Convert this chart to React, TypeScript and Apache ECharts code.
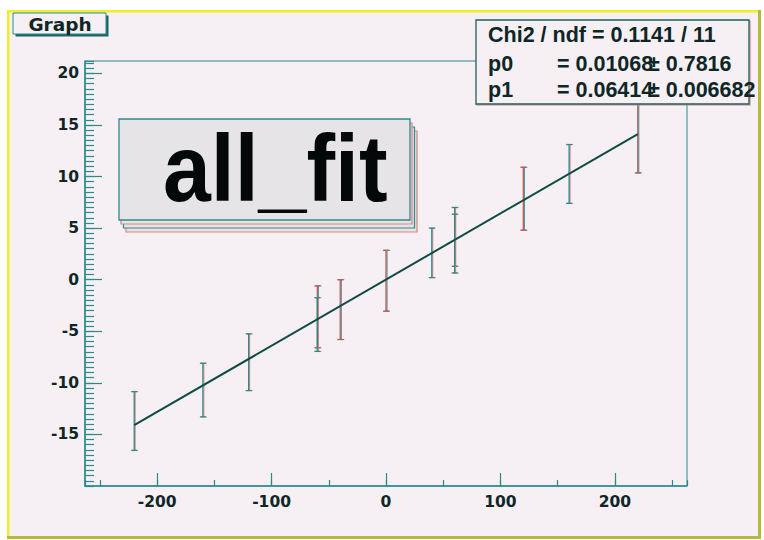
import React, { useEffect, useRef } from 'react';
import * as echarts from 'echarts';

// ---- data ----
const X_VALUES = [-220, -160, -120, -60, -60, -40, 0, 40, 60, 60, 120, 160, 220];
const Y_VALUES = [-13.7, -10.7, -8.0, -3.6, -4.35, -2.9, -0.1, 2.6, 4.15, 3.5, 7.85, 10.25, 13.9];
const Y_ERRORS = [2.85, 2.6, 2.75, 3.0, 2.6, 2.9, 2.95, 2.4, 2.85, 2.85, 3.05, 2.85, 3.55];
const FIT_P0 = 0.01068;
const FIT_P1 = 0.06414;
const FIT_X_RANGE = [-220, 220];
const X_RANGE = [-263, 263];
const Y_RANGE = [-20, 21.2];
const TITLE_TEXT = 'Graph';
const BANNER_TEXT = 'all_fit';
const STATS_ROW1 = 'Chi2 / ndf = 0.1141 / 11';
const STATS_PARAMS = ['p0', 'p1'];
const STATS_VALUES = ['= 0.01068', '= 0.06414'];
const STATS_ERRORS = ['\u00b1 0.7816', '\u00b1 0.006682'];

// ---- styles ----
const BG = '#f6f0f4';
const TEAL = '#2b8a8a';
const RED = '#e08080';
const DARK = '#0e2626';
const BAR_TONES = ['t', 't', 't', 'r', 't', 'r', 'r', 't', 't', 't', 'r', 't', 'r'];

export default function App() {
  const ref = useRef<HTMLDivElement>(null);
  useEffect(() => {
    if (!ref.current) return;
    const chart = echarts.init(ref.current, undefined, { renderer: 'svg' });
    const errData = X_VALUES.map((x, i) => [x, Y_VALUES[i], Y_ERRORS[i]]);
    const fitData = FIT_X_RANGE.map((x) => [x, FIT_P0 + FIT_P1 * x]);
    const tickFont = { fontFamily: 'DejaVu Sans', fontWeight: 'bold' as const, fontSize: 15.5, color: DARK };

    const statsFont = 'bold 21.5px "Liberation Sans"';
    const rowsY = [64, 89.5];
    const statsTexts: any[] = [
      { type: 'text', z: 102, x: 488, y: 35, style: { text: STATS_ROW1, font: statsFont, fill: DARK, textVerticalAlign: 'middle', verticalAlign: 'middle' } },
    ];
    STATS_PARAMS.forEach((p, i) => {
      statsTexts.push({ type: 'text', z: 102, x: 488, y: rowsY[i], style: { text: p, font: statsFont, fill: DARK, textVerticalAlign: 'middle', verticalAlign: 'middle' } });
      statsTexts.push({ type: 'text', z: 102, x: 557, y: rowsY[i], style: { text: STATS_VALUES[i], font: statsFont, fill: DARK, textVerticalAlign: 'middle', verticalAlign: 'middle' } });
      statsTexts.push({ type: 'text', z: 102, x: 648, y: rowsY[i], style: { text: STATS_ERRORS[i], font: statsFont, fill: DARK, textVerticalAlign: 'middle', verticalAlign: 'middle' } });
    });

    const bannerLayers = [
      { dx: 7, dy: 12, stroke: RED },
      { dx: 4.5, dy: 8, stroke: TEAL },
      { dx: 2, dy: 4, stroke: RED },
    ].map((l, i) => ({
      type: 'rect', z: 90 + i,
      shape: { x: 119 + l.dx, y: 119 + l.dy, width: 291, height: 101 },
      style: { fill: '#e6e4e6', stroke: l.stroke, lineWidth: 1.2 },
    }));

    chart.setOption({
      animation: false,
      backgroundColor: '#ffffff',
      grid: { left: 85, top: 61, right: 77, bottom: 54, show: true, borderColor: TEAL, borderWidth: 1, backgroundColor: 'transparent' },
      xAxis: [
        {
          type: 'value', min: X_RANGE[0], max: X_RANGE[1], minInterval: 100, maxInterval: 100, position: 'bottom',
          axisLine: { show: true, onZero: false, lineStyle: { color: TEAL, width: 1.5 } },
          axisTick: { show: true, inside: true, length: 13, lineStyle: { color: TEAL, width: 1.2 } },
          axisLabel: { ...tickFont, margin: 8, showMinLabel: false, showMaxLabel: false },
          splitLine: { show: false },
        },
        {
          type: 'value', min: X_RANGE[0], max: X_RANGE[1], minInterval: 50, maxInterval: 50, position: 'bottom',
          axisLine: { show: false, onZero: false },
          axisTick: { show: true, inside: true, length: 6, lineStyle: { color: TEAL, width: 1.2 } },
          axisLabel: { show: false },
          splitLine: { show: false },
        },
      ],
      yAxis: [
        {
          type: 'value', min: Y_RANGE[0], max: Y_RANGE[1], interval: 5, position: 'left',
          axisLine: { show: true, onZero: false, lineStyle: { color: TEAL, width: 1.5 } },
          axisTick: { show: true, inside: true, length: 17, lineStyle: { color: TEAL, width: 1.2 } },
          axisLabel: { ...tickFont, margin: 6, showMinLabel: false, showMaxLabel: false },
          splitLine: { show: false },
        },
        {
          type: 'value', min: Y_RANGE[0], max: Y_RANGE[1], interval: 0.5, position: 'left',
          axisLine: { show: false, onZero: false },
          axisTick: { show: true, inside: true, length: 9, lineStyle: { color: TEAL, width: 1.2 } },
          axisLabel: { show: false },
          splitLine: { show: false },
        },
      ],
      series: [
        {
          type: 'custom', xAxisIndex: 0, yAxisIndex: 0, z: 3,
          data: errData,
          renderItem: (params: any, api: any) => {
            const x = api.value(0), y = api.value(1), e = api.value(2);
            const top = api.coord([x, y + e]);
            const bot = api.coord([x, y - e]);
            const main = BAR_TONES[params.dataIndex] === 'r' ? '#c25a5a' : TEAL;
            const fringe = BAR_TONES[params.dataIndex] === 'r' ? TEAL : RED;
            const cap = 3;
            const mk = (dx: number, color: string, w: number) => [
              { type: 'line', shape: { x1: top[0] + dx, y1: top[1], x2: bot[0] + dx, y2: bot[1] }, style: { stroke: color, lineWidth: w } },
              { type: 'line', shape: { x1: top[0] - cap + dx, y1: top[1], x2: top[0] + cap + dx, y2: top[1] }, style: { stroke: color, lineWidth: w } },
              { type: 'line', shape: { x1: bot[0] - cap + dx, y1: bot[1], x2: bot[0] + cap + dx, y2: bot[1] }, style: { stroke: color, lineWidth: w } },
            ];
            return { type: 'group', children: [...mk(1, fringe, 1), ...mk(0, main, 1.3)] };
          },
        },
        {
          type: 'line', xAxisIndex: 0, yAxisIndex: 0, z: 4,
          data: fitData, symbol: 'none',
          lineStyle: { color: '#0f4a46', width: 2 },
        },
      ],
      graphic: [
        { type: 'rect', z: -100, silent: true, shape: { x: 7, y: 10, width: 754, height: 529 }, style: { fill: BG } },
        { type: 'rect', z: -99, silent: true, shape: { x: 7, y: 10, width: 754, height: 2.5 }, style: { fill: '#f2ee24' } },
        { type: 'rect', z: -99, silent: true, shape: { x: 7, y: 10, width: 2.5, height: 529 }, style: { fill: '#f2ee24' } },
        { type: 'rect', z: -99, silent: true, shape: { x: 7, y: 536, width: 754, height: 3 }, style: { fill: '#b8b83a' } },
        { type: 'rect', z: -99, silent: true, shape: { x: 758, y: 10, width: 3, height: 529 }, style: { fill: '#b8b83a' } },
        // title box
        { type: 'rect', z: 100, shape: { x: 15.5, y: 15.5, width: 93, height: 21 }, style: { fill: '#1f6464' } },
        { type: 'rect', z: 101, shape: { x: 13, y: 13, width: 93, height: 21 }, style: { fill: BG, stroke: TEAL, lineWidth: 1 } },
        { type: 'text', z: 102, x: 60, y: 24, style: { text: TITLE_TEXT, font: 'bold 18.5px "DejaVu Sans"', fill: DARK, textAlign: 'center', align: 'center', textVerticalAlign: 'middle', verticalAlign: 'middle' } },
        // banner
        ...bannerLayers,
        { type: 'rect', z: 95, shape: { x: 119, y: 119, width: 291, height: 101 }, style: { fill: '#e6e4e6', stroke: TEAL, lineWidth: 1.3 } },
        { type: 'text', z: 96, x: 163, y: 168, scaleY: 1.1, style: { text: BANNER_TEXT, font: 'bold 86px "Liberation Sans"', fill: '#050808', textVerticalAlign: 'middle', verticalAlign: 'middle' } },
        // stats box
        { type: 'rect', z: 100, shape: { x: 477, y: 21, width: 273, height: 84 }, style: { fill: 'none', stroke: RED, lineWidth: 1.2 } },
        { type: 'rect', z: 101, shape: { x: 476, y: 20, width: 273, height: 84 }, style: { fill: BG, stroke: '#1d5f5f', lineWidth: 1.3 } },
        ...statsTexts,
      ],
    });
    return () => chart.dispose();
  }, []);
  return <div ref={ref} style={{ position: 'fixed', left: 0, top: 0, width: 764, height: 540 }} />;
}
